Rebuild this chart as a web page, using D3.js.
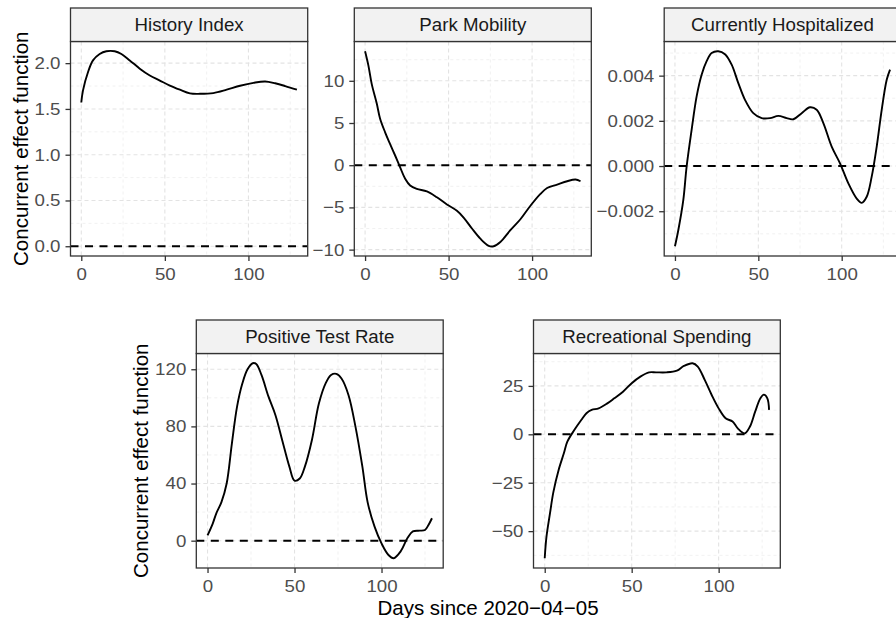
<!DOCTYPE html>
<html>
<head>
<meta charset="utf-8">
<script src="https://d3js.org/d3.v7.min.js"></script>
<style>
body { margin: 0; background: #fff; }
svg { font-family: "Liberation Sans", Arial, sans-serif; }
</style>
</head>
<body>
<svg id="chart" width="896" height="618"></svg>
<script>

// days since 2020-04-05 and the estimated concurrent effect at those days
const historyDays   = [0, 1, 4, 7, 11, 15, 20, 24, 29, 35, 41, 47, 53, 59, 65, 71, 79, 87, 95, 103, 110, 116, 122, 129];
const historyEffect = [1.57, 1.70, 1.90, 2.03, 2.10, 2.13, 2.13, 2.10, 2.03, 1.94, 1.865, 1.81, 1.755, 1.71, 1.67, 1.665, 1.673, 1.71, 1.753, 1.785, 1.80, 1.78, 1.75, 1.71];

const parkDays   = [0, 2, 4, 7, 9, 12, 15, 18, 21, 24, 27, 31, 37, 43, 49, 55, 59, 64, 69, 74, 77, 81, 87, 93, 99, 105, 109, 115, 121, 126, 129];
const parkEffect = [13.5, 11.8, 9.6, 7.3, 5.5, 3.9, 2.5, 1.15, -0.25, -1.6, -2.4, -2.8, -3.1, -3.8, -4.65, -5.4, -6.2, -7.5, -8.7, -9.55, -9.6, -9.1, -7.7, -6.4, -4.8, -3.4, -2.7, -2.3, -1.9, -1.7, -1.9];

const hospDays   = [0, 2, 5, 7, 10, 13, 16, 19, 22, 26, 30, 34, 38, 42, 47, 52, 57, 62, 67, 71, 76, 81, 85, 89, 94, 99, 104, 109, 112, 115, 118, 121, 124, 127, 129];
const hospEffect = [-0.00355, -0.00284, -0.00151, -0.00003, 0.0016, 0.00308, 0.00404, 0.00464, 0.005, 0.00508, 0.00495, 0.00449, 0.00367, 0.00293, 0.00234, 0.00212, 0.00212, 0.00222, 0.00212, 0.00207, 0.00234, 0.0026, 0.00249, 0.0019, 0.00086, 0.00012, -0.00077, -0.00144, -0.00163, -0.00136, -0.00047, 0.00086, 0.00249, 0.00382, 0.00427];

const testDays   = [0, 3, 5, 8, 11, 14, 17, 20, 23, 26, 28, 31, 35, 39, 43, 47, 50, 53, 56, 60, 64, 68, 71, 74, 77, 81, 85, 89, 92, 96, 100, 104, 107, 111, 115, 118, 122, 125, 127, 129];
const testEffect = [3.7, 12, 19, 27, 40, 68, 94, 110, 120, 124.2, 123.7, 116, 101, 88, 70, 52, 42, 43.5, 52, 70.5, 96, 110.5, 116, 116.8, 113.5, 102, 80, 51.8, 27, 9.8, -1.9, -10, -12.3, -7.5, 2, 6.5, 7, 7.5, 11, 15.7];

const spendDays   = [0, 1, 3, 5, 8, 11, 13, 17, 21, 24, 27, 31, 36, 40, 45, 50, 55, 60, 64, 70, 76, 80, 85, 88, 92, 96, 100, 104, 108, 111, 115, 118, 121, 124, 126, 128, 129];
const spendEffect = [-64, -53, -41, -29.7, -18.4, -9.8, -3.8, 2.2, 7.4, 10.9, 12.6, 13.4, 16, 18.6, 22, 26.4, 29.8, 32, 32, 32, 32.9, 35.3, 36.7, 35, 28.1, 20.3, 13.4, 8.3, 6.6, 3.1, 0.5, 4, 11.7, 18.6, 20.5, 18.6, 12.6];

const panelTitles = ["History Index", "Park Mobility", "Currently Hospitalized", "Positive Test Rate", "Recreational Spending"];
const dayTicks = [0, 50, 100];
const historyTicks = [0, 0.5, 1, 1.5, 2];
const parkTicks = [-10, -5, 0, 5, 10];
const hospTicks = [-0.002, 0, 0.002, 0.004];
const testTicks = [0, 40, 80, 120];
const spendTicks = [-50, -25, 0, 25];

const yTitle = "Concurrent effect function";
const xTitle = "Days since 2020\u221204\u221205";

const panels = [
  {title: panelTitles[0], days: historyDays, vals: historyEffect, ticks: historyTicks, fmt: ".1f", left: 70.5, right: 307.7, top: 8, bottom: 256},
  {title: panelTitles[1], days: parkDays, vals: parkEffect, ticks: parkTicks, fmt: "d", left: 354.3, right: 591.3, top: 8, bottom: 256},
  {title: panelTitles[2], days: hospDays, vals: hospEffect, ticks: hospTicks, fmt: ".3f", left: 664.2, right: 900.8, top: 8, bottom: 256},
  {title: panelTitles[3], days: testDays, vals: testEffect, ticks: testTicks, fmt: "d", left: 196.3, right: 443.2, top: 320, bottom: 568},
  {title: panelTitles[4], days: spendDays, vals: spendEffect, ticks: spendTicks, fmt: "d", left: 533.5, right: 780.3, top: 320, bottom: 568}
];

const stripH = 33.5;
const tickStretch = 1.1;   // tick digits in the original are a little wide
const svg = d3.select("#chart");

function pad(ext) {
  const d = (ext[1] - ext[0]) * 0.05;
  return [ext[0] - d, ext[1] + d];
}

function minorOf(ticks, dom) {
  const step = ticks[1] - ticks[0];
  const out = [];
  for (let v = ticks[0] - step / 2; v <= ticks[ticks.length - 1] + step; v += step) {
    if (v >= dom[0] && v <= dom[1]) out.push(v);
  }
  return out;
}

panels.forEach((p, i) => {
  const plotTop = p.top + stripH;
  const x = d3.scaleLinear().domain(pad(d3.extent(p.days))).range([p.left, p.right]);
  const y = d3.scaleLinear().domain(pad(d3.extent(p.vals.concat([0])))).range([p.bottom, plotTop]);
  const g = svg.append("g");

  g.append("clipPath").attr("id", "clip" + i)
    .append("rect").attr("x", p.left).attr("y", plotTop)
    .attr("width", p.right - p.left).attr("height", p.bottom - plotTop);

  const grid = g.append("g").attr("clip-path", "url(#clip" + i + ")");
  const xMinor = minorOf(dayTicks, x.domain());
  const yMinor = minorOf(p.ticks, y.domain());

  grid.selectAll(".xmin").data(xMinor).join("line")
    .attr("x1", d => x(d)).attr("x2", d => x(d)).attr("y1", plotTop).attr("y2", p.bottom)
    .attr("stroke", "#ebebeb").attr("stroke-width", 0.7).attr("stroke-dasharray", "3,3");
  grid.selectAll(".ymin").data(yMinor).join("line")
    .attr("y1", d => y(d)).attr("y2", d => y(d)).attr("x1", p.left).attr("x2", p.right)
    .attr("stroke", "#ebebeb").attr("stroke-width", 0.7).attr("stroke-dasharray", "3,3");
  grid.selectAll(".xmaj").data(dayTicks).join("line")
    .attr("x1", d => x(d)).attr("x2", d => x(d)).attr("y1", plotTop).attr("y2", p.bottom)
    .attr("stroke", "#e3e3e3").attr("stroke-width", 1.1).attr("stroke-dasharray", "4,3");
  grid.selectAll(".ymaj").data(p.ticks).join("line")
    .attr("y1", d => y(d)).attr("y2", d => y(d)).attr("x1", p.left).attr("x2", p.right)
    .attr("stroke", "#e3e3e3").attr("stroke-width", 1.1).attr("stroke-dasharray", "4,3");

  // zero reference line
  grid.append("line")
    .attr("x1", p.left).attr("x2", p.right).attr("y1", y(0)).attr("y2", y(0))
    .attr("stroke", "#000").attr("stroke-width", 1.9).attr("stroke-dasharray", "8,6.5");

  const line = d3.line()
    .x((d, j) => x(p.days[j]))
    .y(d => y(d))
    .curve(d3.curveCatmullRom.alpha(0.5));

  grid.append("path").datum(p.vals)
    .attr("d", line)
    .attr("fill", "none").attr("stroke", "#000").attr("stroke-width", 1.9);

  // border
  g.append("rect").attr("x", p.left).attr("y", plotTop)
    .attr("width", p.right - p.left).attr("height", p.bottom - plotTop)
    .attr("fill", "none").attr("stroke", "#333").attr("stroke-width", 1.3);

  // strip
  g.append("rect").attr("x", p.left).attr("y", p.top)
    .attr("width", p.right - p.left).attr("height", stripH)
    .attr("fill", "#f2f2f2").attr("stroke", "#333").attr("stroke-width", 1.3);
  g.append("text")
    .attr("x", (p.left + p.right) / 2).attr("y", p.top + stripH / 2 + 6.5)
    .attr("text-anchor", "middle").attr("font-size", 18.7).attr("fill", "#1a1a1a")
    .text(p.title);

  // axes
  const xa = g.append("g").attr("transform", "translate(0," + p.bottom + ")")
    .call(d3.axisBottom(x).tickValues(dayTicks).tickFormat(d3.format("d")).tickSize(5).tickPadding(6.5));
  const ya = g.append("g").attr("transform", "translate(" + p.left + ",0)")
    .call(d3.axisLeft(y).tickValues(p.ticks).tickFormat(d3.format(p.fmt)).tickSize(5).tickPadding(5));
  [xa, ya].forEach(a => {
    a.select(".domain").remove();
    a.selectAll(".tick line").attr("stroke", "#333").attr("stroke-width", 1.3);
    a.selectAll(".tick text").attr("fill", "#4d4d4d").attr("font-size", 17)
      .attr("font-family", "Liberation Sans, Arial, sans-serif")
      .attr("x", function() { return (+d3.select(this).attr("x") || 0) / tickStretch; })
      .attr("transform", "scale(" + tickStretch + ",1)");
  });
});

// y axis titles, one per row
[{x: 28, y: (8 + stripH + 256) / 2}, {x: 148.3, y: (320 + stripH + 568) / 2}].forEach(t => {
  svg.append("text")
    .attr("transform", "translate(" + t.x + "," + t.y + ") rotate(-90)")
    .attr("text-anchor", "middle").attr("font-size", 20.5).attr("fill", "#000")
    .text(yTitle);
});

svg.append("text")
  .attr("x", 488).attr("y", 614.5)
  .attr("text-anchor", "middle").attr("font-size", 20.5).attr("fill", "#000")
  .text(xTitle);

</script>
</body>
</html>
